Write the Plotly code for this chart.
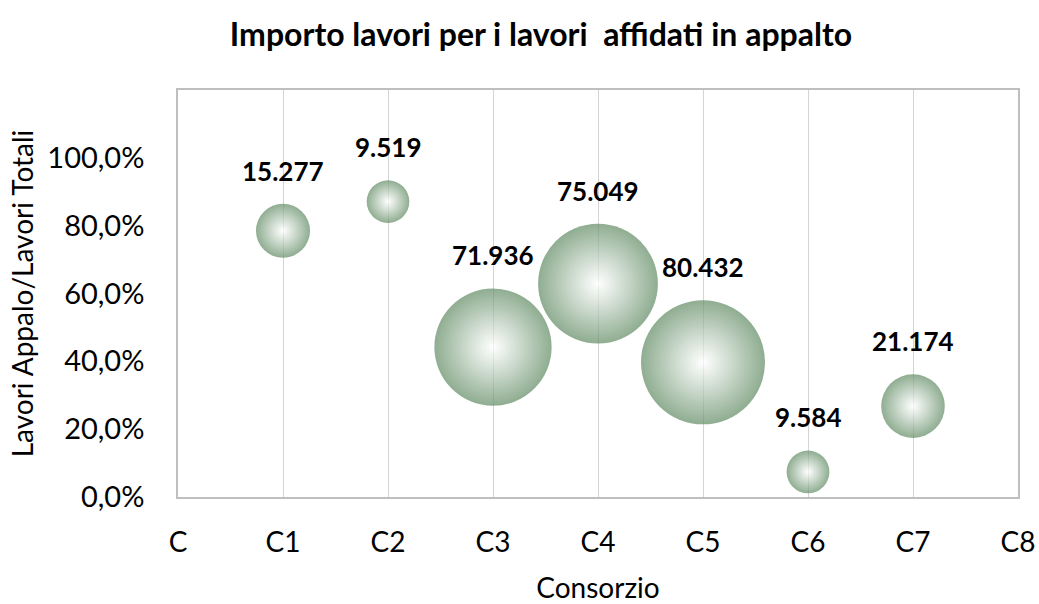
import plotly.graph_objects as go
import math

categories = ["C", "C1", "C2", "C3", "C4", "C5", "C6", "C7", "C8"]
consorzi_x = [1, 2, 3, 4, 5, 6, 7]
ratio_values = [0.785, 0.871, 0.442, 0.629, 0.397, 0.074, 0.268]
importo_values = [15.277, 9.519, 71.936, 75.049, 80.432, 9.584, 21.174]
label_texts = ["15.277", "9.519", "71.936", "75.049", "80.432", "9.584", "21.174"]
y_tickvals = [0, 0.2, 0.4, 0.6, 0.8, 1.0]
y_ticktext = ["0,0%", "20,0%", "40,0%", "60,0%", "80,0%", "100,0%"]

FONT = "Lato, 'Open Sans', sans-serif"
max_diam = 124
sizeref = 2.0 * max(importo_values) / (max_diam ** 2)

fig = go.Figure()
fig.add_trace(go.Scatter(
    x=consorzi_x, y=ratio_values, mode="markers",
    marker=dict(size=importo_values, sizemode="area", sizeref=sizeref,
                color="#5f8a62", line=dict(width=0),
                gradient=dict(type="radial", color="#ffffff")),
    hoverinfo="skip", showlegend=False, cliponaxis=False,
))

for xv, yv, v, t in zip(consorzi_x, ratio_values, importo_values, label_texts):
    r = math.sqrt(v / (2 * sizeref))
    fig.add_annotation(x=xv, y=yv, text="<b>" + t + "</b>", showarrow=False,
                       yshift=r + 33, font=dict(family=FONT, size=26, color="#000000"))

fig.update_layout(
    width=1039, height=604,
    margin=dict(l=178, r=21, t=90, b=107),
    paper_bgcolor="white", plot_bgcolor="white",
    title=dict(text="<b>Importo lavori per i lavori\u00a0 affidati in appalto</b>",
               x=541 / 1039, xanchor="center", y=1 - 35 / 604, yanchor="middle",
               font=dict(family=FONT, size=32, color="#000000")),
    xaxis=dict(range=[0, 8], tickmode="array", tickvals=list(range(9)), ticktext=categories,
               showgrid=True, gridcolor="#d4d4d4", gridwidth=1, zeroline=False,
               showline=True, linecolor="#bfbfbf", linewidth=1.5, mirror=True,
               ticks="", ticklabelstandoff=20, automargin=False, ticklabeloverflow="allow",
               tickfont=dict(family=FONT, size=28, color="#000000"),
               title=dict(text="Consorzio", font=dict(family=FONT, size=28, color="#000000"), standoff=24)),
    yaxis=dict(range=[0, 1.2], tickmode="array", tickvals=y_tickvals, ticktext=y_ticktext,
               showgrid=False, zeroline=False,
               showline=True, linecolor="#bfbfbf", linewidth=1.5, mirror=True,
               ticks="", ticklabelstandoff=26, automargin=False,
               tickfont=dict(family=FONT, size=29, color="#000000"),
               title=dict(text="Lavori Appalo/Lavori Totali", font=dict(family=FONT, size=28, color="#000000"), standoff=6)),
)

fig.write_html("out.html", config={"displayModeBar": False},
               post_script="document.body.style.margin='0';document.body.style.overflow='hidden';")
